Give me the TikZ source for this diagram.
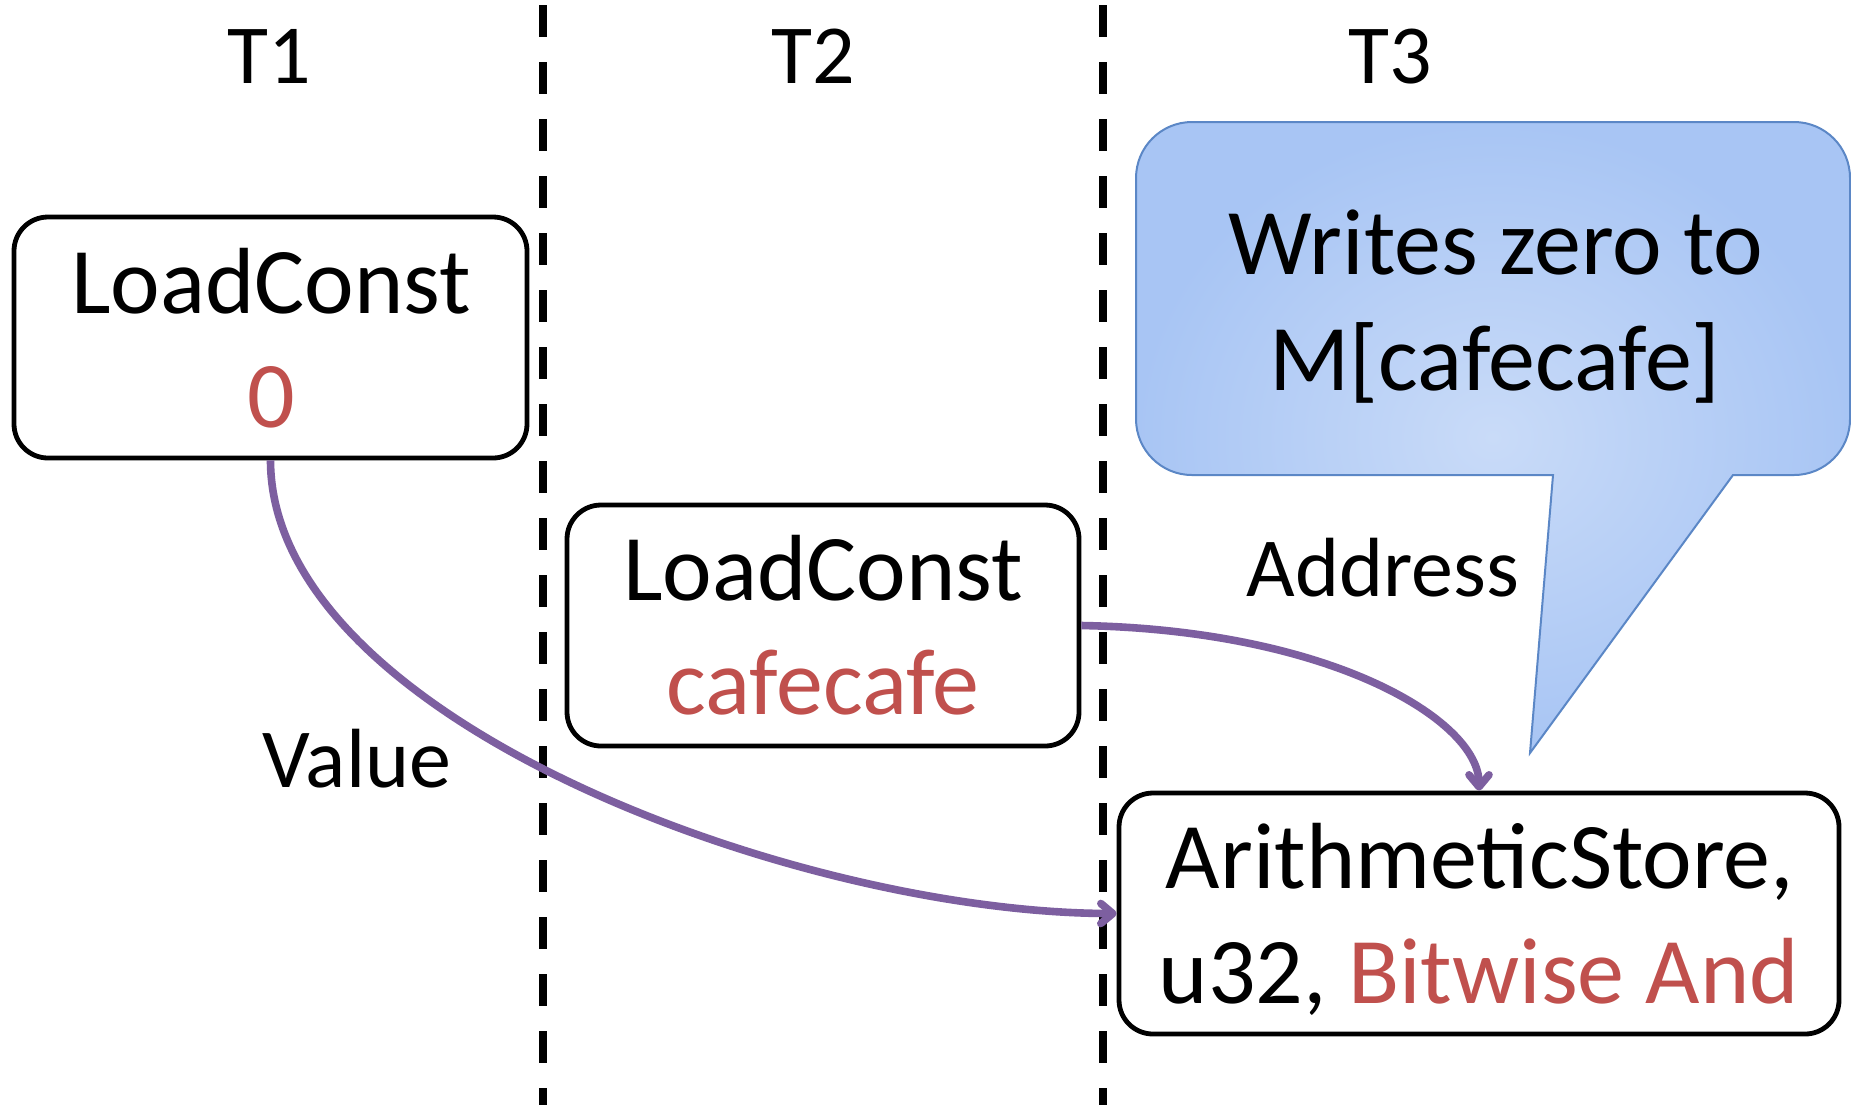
\documentclass[tikz,border=0pt]{standalone}
\usepackage{fontspec}
\setmainfont{Carlito}
\usetikzlibrary{arrows.meta}
\definecolor{redtxt}{HTML}{C0504D}
\definecolor{purp}{HTML}{7D5FA0}
\definecolor{calloutin}{HTML}{C9DBF8}
\definecolor{calloutout}{HTML}{A8C5F4}
\definecolor{calloutline}{HTML}{5B87C6}
\begin{document}
\begin{tikzpicture}[x=0.5pt,y=-0.5pt,
  opbox/.style={draw=black, line width=2.4pt, rounded corners=17pt, minimum height=120.5pt, inner sep=0pt},
  lbl/.style={font=\fontsize{42}{50}\selectfont, anchor=base, inner sep=0pt},
  boxtxt/.style={font=\fontsize{47}{57}\selectfont, anchor=base, inner sep=0pt},
  divider/.style={line width=3.75pt, dash pattern=on 16pt off 12.5pt, dash phase=26pt},
  flow/.style={draw=purp, line width=3.8pt, -{Straight Barb[length=6pt,width=10pt,round]}},
  bubble/.style={inner color=calloutin, outer color=calloutout, draw=calloutline, line width=1pt}
]
\useasboundingbox (0,0) rectangle (1851,1105);
\fill[white] (0,0) rectangle (1851,1105);

% lane dividers
\coordinate (d1t) at (543,0);  \coordinate (d1b) at (543,1105);
\coordinate (d2t) at (1103,0); \coordinate (d2b) at (1103,1105);
\draw[divider] (d1t) -- (d1b);
\draw[divider] (d2t) -- (d2b);

% lane titles
\node[lbl] (t1) at (269,83) {T1};
\node[lbl] (t2) at (813,83) {T2};
\node[lbl] (t3) at (1390,83) {T3};

% callout
\shadedraw[bubble] (1490,122) [rounded corners=28pt] -- (1136,122) -- (1136,475) -- (1400,475)
  [sharp corners] -- (1553,475) -- (1530,753) -- (1733,475) -- (1780,475)
  [rounded corners=28pt] -- (1850,475) -- (1850,122) -- cycle;
\node[boxtxt] (c1) at (1496,274) {Writes zero to};
\node[boxtxt] (c2) at (1495,390) {M[cafecafe]};

% boxes
\node[opbox, minimum width=256.5pt] (b1) at (270.5,337.5) {};
\node[opbox, minimum width=256pt] (b2) at (823,625.5) {};
\node[opbox, minimum width=360pt] (b3) at (1479,913.5) {};

\node[boxtxt] (b1a) at (271,313) {LoadConst};
\node[boxtxt, text=redtxt] (b1b) at (271,427) {0};
\node[boxtxt] (b2a) at (823,600) {LoadConst};
\node[boxtxt, text=redtxt] (b2b) at (823,714) {cafecafe};
\node[boxtxt] (b3a) at (1480,888) {ArithmeticStore,};
\node[boxtxt] (b3b) at (1479,1003) {u32, \textcolor{redtxt}{Bitwise And}};

% edge labels
\node[lbl] (lv) at (357,787) {Value};
\node[lbl] (la) at (1383,596) {Address};

% connectors
\draw[flow] (b1.south) .. controls (271,720) and (800,913) .. (b3.west);
\draw[flow] (b2.east) .. controls (1330,630) and (1479,720) .. (b3.north);
\end{tikzpicture}
\end{document}
